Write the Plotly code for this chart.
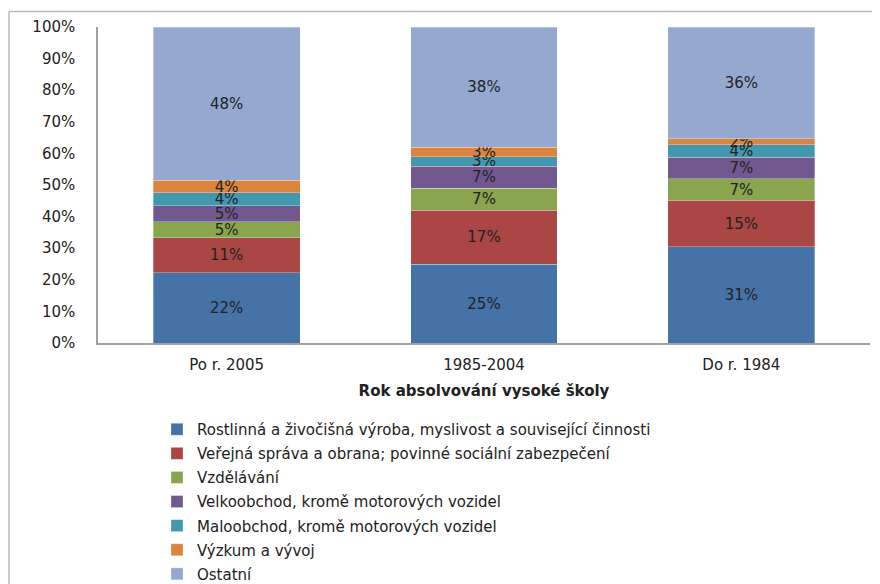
import plotly.graph_objects as go

categories = ["Po r. 2005", "1985-2004", "Do r. 1984"]
series_names = [
    "Rostlinná a živočišná výroba, myslivost a související činnosti",
    "Veřejná správa a obrana; povinné sociální zabezpečení",
    "Vzdělávání",
    "Velkoobchod, kromě motorových vozidel",
    "Maloobchod, kromě motorových vozidel",
    "Výzkum a vývoj",
    "Ostatní",
]
rostlinna = [22, 25, 31]
verejna = [11, 17, 15]
vzdelavani = [5, 7, 7]
velkoobchod = [5, 7, 7]
maloobchod = [4, 3, 4]
vyzkum = [4, 3, 2]
ostatni = [48, 38, 36]
series_values = [rostlinna, verejna, vzdelavani, velkoobchod, maloobchod, vyzkum, ostatni]
colors = ["#4572A7", "#AA4643", "#89A54E", "#71588F", "#4198AF", "#DB843D", "#95A9D0"]

# page body has an 8px margin, so figure coordinates = screen - 8
OFF = 8
W, H = 880 - OFF, 584 - OFF
ML, MT, MB = 98 - OFF, 27 - OFF, 0
MR = W - (870 - OFF)
plot_h = H - MT - MB
plot_w = W - ML - MR
axis_bottom_px = 343 - OFF
legend_top_px = 413 - OFF
legend_left_px = 157 - OFF
FS = 15


def py(px):
    return (H - MB - px) / plot_h


def pxx(px):
    return (px - ML) / plot_w


fig = go.Figure()
for i, (name, vals, col) in enumerate(zip(series_names, series_values, colors)):
    fig.add_trace(go.Bar(
        x=categories, y=vals, name=name,
        marker=dict(color=col, line=dict(width=0.6, color="rgba(255,255,255,0.5)")),
        text=[f"{v}%" for v in vals],
        textposition="inside", insidetextanchor="middle", textangle=0,
        textfont=dict(family="DejaVu Sans", size=FS, color="#222222"),
        legendgroup=f"g{i}",
        hoverinfo="skip",
    ))

fig.update_layout(
    barmode="stack", barnorm="percent", bargap=0.43,
    width=W, height=H,
    margin=dict(l=ML, r=MR, t=MT, b=MB, autoexpand=False),
    paper_bgcolor="white", plot_bgcolor="white",
    font=dict(family="DejaVu Sans", size=FS, color="#222222"),
    uniformtext=dict(mode="show", minsize=FS),
    showlegend=True,
    legend=dict(
        x=pxx(legend_left_px), y=py(legend_top_px),
        xanchor="left", yanchor="top",
        traceorder="grouped", tracegroupgap=1.6,
        font=dict(family="DejaVu Sans", size=FS, color="#222222"),
        itemwidth=30, bgcolor="rgba(0,0,0,0)",
    ),
    xaxis=dict(
        showline=True, linecolor="#a0a0a0", linewidth=1.5,
        ticks="", tickfont=dict(size=FS), anchor="y",
        ticklabelstandoff=7,
        title=dict(text="<b>Rok absolvování vysoké školy</b>", font=dict(size=FS), standoff=13),
    ),
    yaxis=dict(
        domain=[py(axis_bottom_px), 1],
        range=[0, 100], dtick=10, ticksuffix="%",
        showline=True, linecolor="#a0a0a0", linewidth=1.5,
        showgrid=False, zeroline=False, ticks="", ticklen=0,
        ticklabelstandoff=18,
        tickfont=dict(size=FS),
    ),
    shapes=[
        dict(type="line", xref="paper", yref="paper",
             x0=pxx(9 - OFF), x1=pxx(W),
             y0=py(11.5 - OFF), y1=py(11.5 - OFF),
             line=dict(color="#b8b8b8", width=1.5)),
        dict(type="line", xref="paper", yref="paper",
             x0=pxx(9 - OFF), x1=pxx(9 - OFF),
             y0=py(11.5 - OFF), y1=py(H),
             line=dict(color="#b8b8b8", width=1.5)),
    ],
)

fig.write_html("out.html")
